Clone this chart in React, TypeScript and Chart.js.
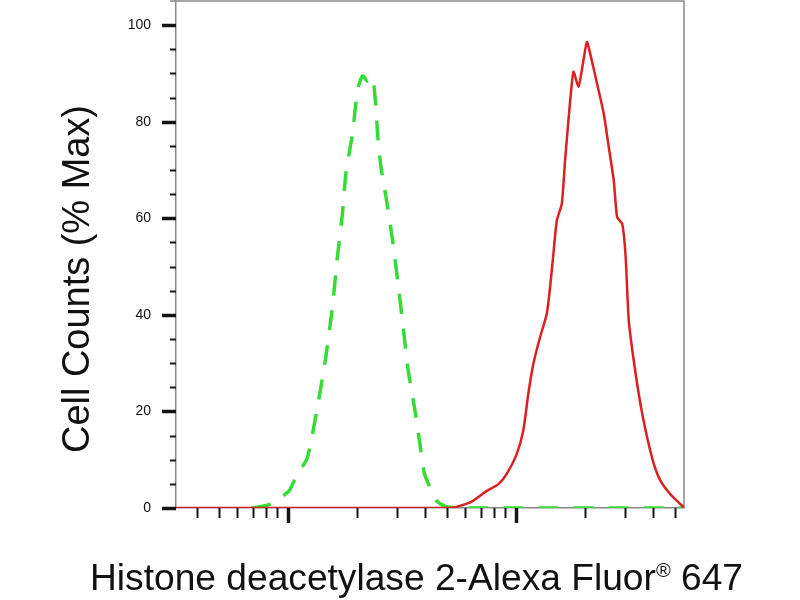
import React, { useEffect, useRef } from "react";
import { Chart, registerables } from "chart.js";

Chart.register(...registerables);

// ---- data ----
const yLabelValues = [0, 20, 40, 60, 80, 100];
const yTickValues = [0, 5, 10, 15, 20, 25, 30, 35, 40, 45, 50, 55, 60, 65, 70, 75, 80, 85, 90, 95, 100];
const xMajorTicks = [1000, 10000];
const xMinorTicks = [400, 500, 600, 700, 800, 900, 2000, 3000, 4000, 5000, 6000, 7000, 8000, 9000, 20000, 30000, 40000, 50000];

const xTitleMain = "Histone deacetylase 2-Alexa Fluor";
const xTitleMark = "®";
const xTitleTail = " 647";
const yTitleText = "Cell Counts (% Max)";

// isotype control (green, dashed)
const greenX = [690, 721, 839, 1010, 1081, 1216, 1346, 1466, 1567, 1648, 1734, 1795, 1919, 2019, 2125, 2234, 2350, 2433, 2473, 2560, 2693, 2878, 3029, 3190, 3355, 3591, 3777, 3973, 4487, 4864, 5664, 54600];
const greenY = [0, 0.1, 0.8, 3.5, 6.3, 10.4, 20.8, 31.2, 41.6, 51.9, 60.9, 69.2, 77.5, 86.5, 89.5, 88.4, 89.3, 83.0, 77.5, 70.6, 64.4, 55.4, 47.1, 38.2, 29.1, 20.8, 13.9, 7.1, 1.5, 0.4, 0, 0];

// sample (red, solid)
const redX = [323, 5117, 6270, 6938, 7424, 8356, 9100, 10070, 10770, 11330, 11920, 12750, 13650, 14120, 14600, 15110, 15890, 16430, 17000, 17880, 18800, 19460, 20480, 21170, 22680, 24270, 25530, 26860, 27800, 29240, 30230, 31260, 32880, 35180, 37650, 40270, 43100, 47680, 54580];
const redY = [0, 0, 1.1, 2.5, 3.5, 4.9, 7.0, 11.1, 16.0, 23.6, 29.8, 35.3, 40.2, 45.7, 52.6, 59.5, 63.0, 72.0, 80.3, 90.3, 87.2, 90.7, 96.5, 94.1, 87.9, 81.7, 74.8, 67.8, 60.2, 58.9, 52.6, 38.8, 30.5, 21.5, 14.6, 9.1, 5.6, 2.8, 0.1];

const FONT = '"Liberation Sans", Arial, Helvetica, sans-serif';

const decorPlugin = {
  id: "decor",
  beforeDatasetsDraw(chart: any) {
    const { ctx, chartArea } = chart;
    ctx.save();
    ctx.strokeStyle = "#8a8a8a";
    ctx.lineWidth = 1.5;
    ctx.beginPath();
    ctx.moveTo(170, chartArea.top);
    ctx.lineTo(chartArea.right, chartArea.top);
    ctx.lineTo(chartArea.right, chartArea.bottom);
    ctx.stroke();
    ctx.restore();
  },
  afterDraw(chart: any) {
    const { ctx, chartArea } = chart;
    const xs = chart.scales.x;
    const ys = chart.scales.y;
    ctx.save();
    ctx.strokeStyle = "#151515";
    // y ticks
    yTickValues.forEach((v) => {
      const py = Math.round(ys.getPixelForValue(v)) + 0.5;
      const major = v % 20 === 0;
      ctx.lineWidth = major ? 3.5 : 2;
      ctx.beginPath();
      ctx.moveTo(chartArea.left - (major ? 14 : 6), py);
      ctx.lineTo(chartArea.left, py);
      ctx.stroke();
    });
    // x ticks
    const all = [...xMinorTicks.map((v) => ({ v, major: false })), ...xMajorTicks.map((v) => ({ v, major: true }))];
    all.forEach(({ v, major }) => {
      const px = Math.round(xs.getPixelForValue(v)) + 0.5;
      ctx.lineWidth = major ? 3.5 : 2;
      ctx.beginPath();
      ctx.moveTo(px, chartArea.bottom);
      ctx.lineTo(px, chartArea.bottom + (major ? 15 : 10));
      ctx.stroke();
    });
    ctx.restore();

    // x title with superscript mark
    ctx.save();
    ctx.fillStyle = "#111";
    ctx.textBaseline = "alphabetic";
    ctx.textAlign = "left";
    const big = "37px " + FONT;
    const small = "20px " + FONT;
    ctx.font = big;
    const wMain = ctx.measureText(xTitleMain).width;
    const wTail = ctx.measureText(xTitleTail).width;
    ctx.font = small;
    const wMark = ctx.measureText(xTitleMark).width;
    const total = wMain + wMark + wTail;
    const targetW = 653;
    ctx.translate(90, 590);
    ctx.scale(targetW / total, 1);
    ctx.font = big;
    ctx.fillText(xTitleMain, 0, 0);
    ctx.font = small;
    ctx.fillText(xTitleMark, wMain, -13);
    ctx.font = big;
    ctx.fillText(xTitleTail, wMain + wMark, 0);
    ctx.restore();

    // y title
    ctx.save();
    ctx.fillStyle = "#111";
    ctx.font = "38px " + FONT;
    ctx.textAlign = "center";
    ctx.textBaseline = "alphabetic";
    const wy = ctx.measureText(yTitleText).width;
    ctx.translate(89, 279);
    ctx.rotate(-Math.PI / 2);
    ctx.scale(348 / wy, 1);
    ctx.fillText(yTitleText, 0, 0);
    ctx.restore();
  },
};

export default function App() {
  const ref = useRef<HTMLCanvasElement | null>(null);

  useEffect(() => {
    if (!ref.current) return;
    const chart = new Chart(ref.current, {
      type: "line",
      data: {
        datasets: [
          {
            label: "Sample",
            data: redX.map((x, i) => ({ x, y: redY[i] })),
            borderColor: "#dc1f1f",
            borderWidth: 2.5,
            pointRadius: 0,
            tension: 0.2,
            fill: false,
            order: 0,
          },
          {
            label: "Control",
            data: greenX.map((x, i) => ({ x, y: greenY[i] })),
            borderColor: "#36dc36",
            borderWidth: 3.5,
            borderDash: [20, 15],
            pointRadius: 0,
            tension: 0.2,
            fill: false,
            order: 1,
          },
        ],
      },
      options: {
        animation: false,
        responsive: false,
        maintainAspectRatio: false,
        layout: { padding: { top: 1, right: 116, left: 0, bottom: 0 } },
        plugins: { legend: { display: false }, tooltip: { enabled: false } },
        scales: {
          x: {
            type: "logarithmic",
            min: 323,
            max: 54600,
            grid: { display: false, drawTicks: false },
            border: { display: true, color: "#8a8a8a", width: 1.5 },
            ticks: { display: false },
            afterBuildTicks: (s: any) => {
              s.ticks = [...xMinorTicks, ...xMajorTicks].sort((a, b) => a - b).map((v) => ({ value: v }));
            },
            afterFit: (s: any) => {
              s.height = 92;
            },
          },
          y: {
            type: "linear",
            min: 0,
            max: 105,
            grid: { display: false, drawTicks: true, tickLength: 25 },
            border: { display: true, color: "#8a8a8a", width: 1.5 },
            ticks: {
              padding: 0,
              color: "#111",
              font: { family: FONT, size: 14, lineHeight: 0.1 },
              callback: (v: any) => String(v),
            },
            afterBuildTicks: (s: any) => {
              s.ticks = yLabelValues.map((v) => ({ value: v }));
            },
            afterFit: (s: any) => {
              s.width = 176;
            },
          },
        },
      },
      plugins: [decorPlugin],
    });
    return () => chart.destroy();
  }, []);

  return (
    <div style={{ position: "fixed", left: 0, top: 0, width: 800, height: 600, background: "#fff" }}>
      <canvas ref={ref} width={800} height={600} style={{ display: "block" }} />
    </div>
  );
}
